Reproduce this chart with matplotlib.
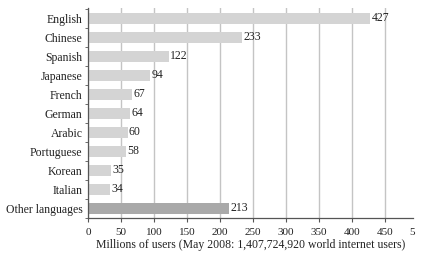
import matplotlib.pyplot as plt
import numpy as np

languages = ['English', 'Chinese', 'Spanish', 'Japanese', 'French', 'German',
             'Arabic', 'Portuguese', 'Korean', 'Italian', 'Other languages']
users = [427, 233, 122, 94, 67, 64, 60, 58, 35, 34, 213]
xticks = [0, 50, 100, 150, 200, 250, 300, 350, 400, 450]

plt.rcParams['font.family'] = ['Liberation Serif', 'DejaVu Serif']

fig = plt.figure(figsize=(4.26, 2.61), dpi=100)
ax = fig.add_axes([0.2066, 0.1648, 0.7629, 0.8045])

pos = np.arange(len(languages))
colors = ['#d4d4d4'] * (len(languages) - 1) + ['#a9a9a9']
ax.barh(pos, users, height=0.6, color=colors, zorder=2)

for p, v in zip(pos, users):
    ax.text(v + 2, p, str(v), va='center', ha='left', fontsize=8.5, color='#222222', zorder=3)

ax.set_xlim(0, 492)
ax.set_ylim(10.47, -0.55)
ax.set_yticks(pos)
ax.set_yticklabels(languages, fontsize=8.5, color='#222222')
ax.set_yticks(np.arange(len(languages) + 1) - 0.5, minor=True)
ax.tick_params(axis='y', which='major', length=0, pad=4)
ax.tick_params(axis='y', which='minor', length=2.5, color='#555555')

ax.set_xticks(xticks)
ax.set_xticklabels([str(t) for t in xticks], fontsize=8, color='#222222')
ax.tick_params(axis='x', length=3, color='#555555', pad=4)
# the last tick label is cut off at the right edge in the original
ax.annotate('5', xy=(490, 0), xycoords=('data', 'axes fraction'),
            xytext=(0, -7), textcoords='offset points', ha='center', va='top',
            fontsize=8, color='#222222')

ax.grid(axis='x', color='#c4c4c4', linewidth=1.0, zorder=0)
ax.set_axisbelow(True)

for s in ['top', 'right']:
    ax.spines[s].set_visible(False)
for s in ['left', 'bottom']:
    ax.spines[s].set_color('#555555')
    ax.spines[s].set_linewidth(0.9)

ax.set_xlabel('Millions of users (May 2008: 1,407,724,920 world internet users)',
              fontsize=8.5, color='#222222', labelpad=2)

fig.savefig('out.png', dpi=100)
